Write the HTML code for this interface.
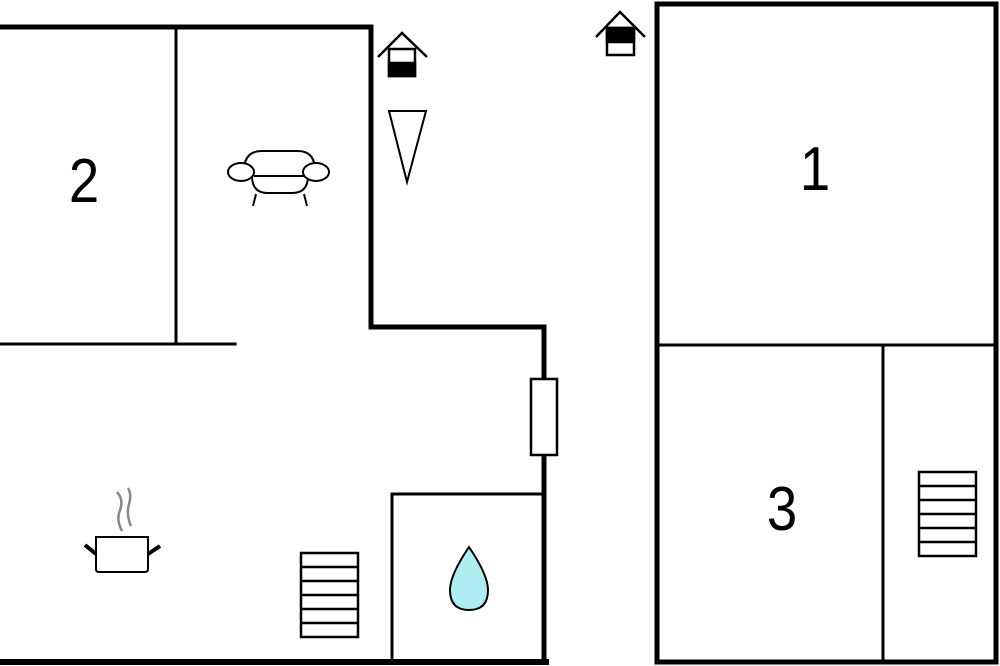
<!DOCTYPE html>
<html><head><meta charset="utf-8"><style>html,body{margin:0;padding:0;background:#fff}svg{display:block}</style></head><body>
<svg width="1000" height="666" viewBox="0 0 1000 666" xmlns="http://www.w3.org/2000/svg">
<g fill="none" stroke="#000" stroke-linecap="square">
<polyline points="0,27 371,27 371,327 544,327 544,662 0,662" stroke-width="5"/>
<line x1="0" y1="662" x2="546" y2="662" stroke-width="6"/>
<line x1="176" y1="27" x2="176" y2="344" stroke-width="3"/>
<line x1="0" y1="344" x2="235" y2="344" stroke-width="3"/>
<polyline points="392,662 392,494 544,494" stroke-width="3"/>
<rect x="531" y="379" width="26" height="76" fill="#fff" stroke-width="2.5"/>
<rect x="657" y="4" width="339" height="658" stroke-width="5"/>
<line x1="657" y1="345" x2="996" y2="345" stroke-width="3"/>
<line x1="883" y1="345" x2="883" y2="662" stroke-width="3"/>
</g>
<g fill="none" stroke="#000" stroke-width="2.5">
<rect x="919" y="472" width="57" height="84"/>
<line x1="919" y1="486" x2="976" y2="486"/><line x1="919" y1="500" x2="976" y2="500"/><line x1="919" y1="514" x2="976" y2="514"/><line x1="919" y1="528" x2="976" y2="528"/><line x1="919" y1="542" x2="976" y2="542"/>
<rect x="301" y="553" width="57" height="84"/>
<line x1="301" y1="567" x2="358" y2="567"/><line x1="301" y1="581" x2="358" y2="581"/><line x1="301" y1="595" x2="358" y2="595"/><line x1="301" y1="609" x2="358" y2="609"/><line x1="301" y1="623" x2="358" y2="623"/>
<polygon points="389,111 426,111 407,182" stroke-width="2"/>
<polyline points="378,57 402,33 427,57"/>
<rect x="389" y="49" width="26" height="27" fill="#fff"/>
<rect x="389" y="63" width="26" height="13" fill="#000"/>
<polyline points="596,37 620,12 645,37"/>
<rect x="607" y="28" width="27" height="27" fill="#fff"/>
<rect x="607" y="28" width="27" height="14" fill="#000"/>
<path d="M244,171 Q244,151 262,151 L298,151 Q315,151 315,171 M252,176 Q252,193 268,193 L292,193 Q308,193 308,176 M254,176 L306,176" stroke-width="2"/>
<ellipse cx="241" cy="172" rx="13" ry="9" fill="#fff" stroke-width="2"/>
<ellipse cx="316" cy="172" rx="13" ry="9" fill="#fff" stroke-width="2"/>
<line x1="256" y1="194" x2="253" y2="206" stroke-width="2"/><line x1="304" y1="194" x2="307" y2="206" stroke-width="2"/>
<path d="M96,537 L148,537 L148,569 Q148,572 145,572 L99,572 Q96,572 96,569 Z" stroke-width="2"/>
<line x1="85" y1="545" x2="96" y2="554" stroke-width="4"/><line x1="148" y1="554" x2="160" y2="546" stroke-width="4"/>
<path d="M122,531 Q116,520 120,510 Q124,500 117,492 M131,526 Q126,515 129,504 Q132,495 128,488" stroke="#888" stroke-width="2.5"/>
<path d="M469,547 Q450,575 450,590 Q450,610 469,610 Q488,610 488,590 Q488,575 469,547 Z" fill="#aeeef2" stroke-width="2"/>
</g>
<g font-family="Liberation Sans, sans-serif" font-size="62" text-anchor="middle" fill="#000" style="font-stretch:condensed">
<text x="84" y="202" transform="translate(84 0) scale(0.88 1) translate(-84 0)">2</text>
<text x="815" y="190" transform="translate(815 0) scale(0.88 1) translate(-815 0)">1</text>
<text x="782" y="530" transform="translate(782 0) scale(0.88 1) translate(-782 0)">3</text>
</g>
</svg>
</body></html>
